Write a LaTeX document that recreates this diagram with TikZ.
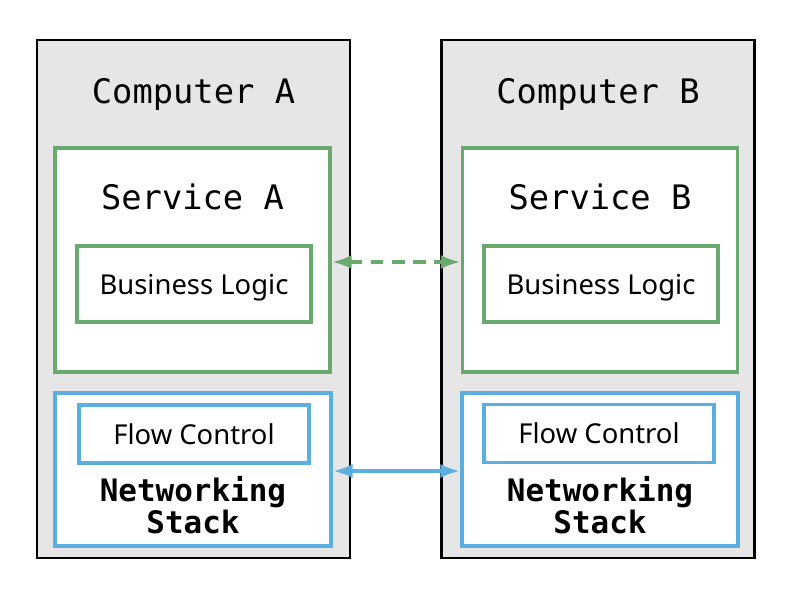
\documentclass[tikz,border=0pt]{standalone}
\usepackage{fontspec}
\setmainfont{Noto Sans}
\setmonofont{DejaVu Sans Mono}
\usetikzlibrary{positioning, arrows.meta}
\definecolor{boxgray}{HTML}{E6E6E6}
\definecolor{svcgreen}{HTML}{6AA96E}
\definecolor{netblue}{HTML}{5AAEE0}

\begin{document}
\begin{tikzpicture}[x=0.025cm, y=-0.025cm,
  computer/.style={rectangle, draw=black, line width=1.6pt, fill=boxgray, inner sep=0pt, minimum width=313*0.025cm, minimum height=518*0.025cm},
  service/.style={rectangle, draw=svcgreen, line width=2.7pt, fill=white, inner sep=0pt, minimum width=275*0.025cm, minimum height=224*0.025cm},
  logic/.style={rectangle, draw=svcgreen, line width=2.7pt, fill=white, inner sep=0pt, text depth=0pt, minimum width=234*0.025cm, minimum height=76*0.025cm, font=\fontsize{19.5}{21}\selectfont},
  stack/.style={rectangle, draw=netblue, line width=2.7pt, fill=white, inner sep=0pt, minimum width=276*0.025cm, minimum height=153*0.025cm},
  flow/.style={rectangle, draw=netblue, line width=2.7pt, fill=white, inner sep=0pt, minimum width=230*0.025cm, minimum height=58*0.025cm, font=\fontsize{19.5}{21}\selectfont},
  title/.style={font=\ttfamily\fontsize{24}{26}\selectfont, inner sep=0pt},
  stacklabel/.style={font=\ttfamily\bfseries\fontsize{22}{23}\selectfont, align=center, inner sep=0pt},
  link/.style={{Latex[length=14pt, width=10pt]}-{Latex[length=14pt, width=10pt]}, line width=2.7pt}]
  \useasboundingbox (0,0) rectangle (787,592);

  % Computer A
  \node[computer] (computerA) at (193.5,299) {};
  \node[title] (titleA) at (193.5,94) {Computer A};
  \node[service] (serviceA) at (192.5,260) {};
  \node[title] (svctitleA) at (192.5,197) {Service A};
  \node[logic] (logicA) at (194,284) {Business Logic};
  \node[stack] (stackA) at (193,469.5) {};
  \node[flow] (flowA) at (194,434) {Flow Control};
  \node[stacklabel] (netA) at (193,505) {Networking\\Stack};

  % Computer B
  \node[computer] (computerB) at (598,299) {};
  \node[title] (titleB) at (598,94) {Computer B};
  \node[service] (serviceB) at (600,260) {};
  \node[title] (svctitleB) at (600,197) {Service B};
  \node[logic] (logicB) at (601,284) {Business Logic};
  \node[stack] (stackB) at (600,469.5) {};
  \node[flow] (flowB) at (599,433.5) {Flow Control};
  \node[stacklabel] (netB) at (600,505) {Networking\\Stack};

  % Verbindungen
  \draw[link, svcgreen, dash pattern=on 9pt off 6pt] ([yshift=-2*0.025cm]serviceA.east) -- ([yshift=-2*0.025cm]serviceB.west);
  \draw[link, netblue] ([yshift=-1.5*0.025cm]stackA.east) -- ([yshift=-1.5*0.025cm]stackB.west);
\end{tikzpicture}
\end{document}
